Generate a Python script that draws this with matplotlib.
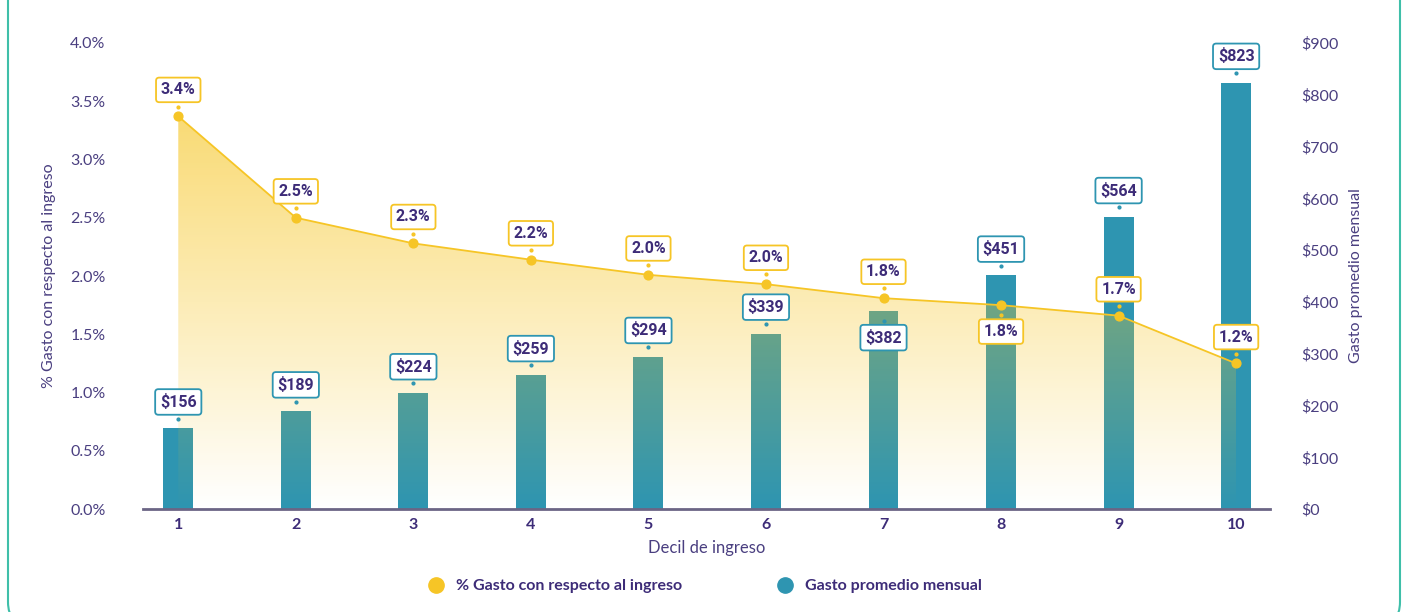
import numpy as np
import matplotlib.pyplot as plt
from matplotlib.patches import Polygon, FancyBboxPatch
from matplotlib.lines import Line2D
from matplotlib.transforms import ScaledTranslation, IdentityTransform

# data
deciles = [1, 2, 3, 4, 5, 6, 7, 8, 9, 10]
pct_gasto = [3.37, 2.50, 2.28, 2.14, 2.01, 1.93, 1.81, 1.75, 1.66, 1.25]
pct_labels = ['3.4%', '2.5%', '2.3%', '2.2%', '2.0%', '2.0%', '1.8%', '1.8%', '1.7%', '1.2%']
gasto_mensual = [156, 189, 224, 259, 294, 339, 382, 451, 564, 823]
gasto_labels = ['$156', '$189', '$224', '$259', '$294', '$339', '$382', '$451', '$564', '$823']
pct_ticks = [0, 0.5, 1.0, 1.5, 2.0, 2.5, 3.0, 3.5, 4.0]
usd_ticks = [0, 100, 200, 300, 400, 500, 600, 700, 800, 900]

PURPLE = '#3d2c78'
TICK = '#4a3f80'
YELLOW = '#f6c526'
TEAL = '#2e95b1'
BORDER = '#3fbfa9'
FONT = 'Lato'

fig = plt.figure(figsize=(14.02, 6.12), dpi=100)

# bars live on ax1 (right-hand $ axis), area/line on ax2 (left-hand % axis) so the fill sits on top
ax1 = fig.add_axes([0.102, 0.168, 0.804, 0.762])
ax2 = ax1.twinx()

ax1.bar(deciles, gasto_mensual, width=0.255, color=TEAL, zorder=1)
ax1.set_ylim(0, 900)
ax1.set_xlim(0.70, 10.29)
ax1.yaxis.tick_right()
ax1.yaxis.set_label_position('right')
ax1.set_yticks(usd_ticks)
ax1.set_yticklabels([f'${t}' for t in usd_ticks])
ax1.set_ylabel('Gasto promedio mensual', color=TICK, fontsize=11.5, family=FONT, labelpad=8)

ax2.set_ylim(0, 4.0)
ax2.yaxis.tick_left()
ax2.yaxis.set_label_position('left')
ax2.set_yticks(pct_ticks)
ax2.set_yticklabels([f'{t:.1f}%' for t in pct_ticks])
ax2.set_ylabel('% Gasto con respecto al ingreso', color=TICK, fontsize=11.5, family=FONT, labelpad=10)

for ax in (ax1, ax2):
    for s in ax.spines.values():
        s.set_visible(False)
    ax.tick_params(axis='y', length=0, labelsize=11.5, labelcolor=TICK)
    for lab in ax.get_yticklabels():
        lab.set_family(FONT)
ax1.tick_params(axis='y', pad=22)
ax2.tick_params(axis='y', pad=27)
ax1.spines['bottom'].set_visible(True)
ax1.spines['bottom'].set_color('#6b6585')
ax1.spines['bottom'].set_linewidth(2)
ax1.set_xticks(deciles)
ax1.set_xticklabels([str(d) for d in deciles], fontsize=11.5, fontweight='bold', color=PURPLE, family=FONT)
ax1.tick_params(axis='x', length=0, pad=6)
ax1.set_xlabel('Decil de ingreso', fontsize=12, color=TICK, family=FONT, labelpad=6)

# gradient area under the % line
verts = [(deciles[0], 0)] + list(zip(deciles, pct_gasto)) + [(deciles[-1], 0)]
poly = Polygon(verts, closed=True, fc='none', ec='none', transform=ax2.transData)
ax2.add_patch(poly)
top = max(pct_gasto)
n = 256
grad = np.zeros((n, 1, 4))
grad[:, 0, 0] = 0.965
grad[:, 0, 1] = 0.78
grad[:, 0, 2] = 0.15
grad[:, 0, 3] = np.linspace(0.64, 0.0, n)
im = ax2.imshow(grad, extent=[deciles[0], deciles[-1], 0, top], aspect='auto', origin='upper', zorder=1)
im.set_clip_path(poly)
ax2.set_xlim(0.70, 10.29)
ax2.set_ylim(0, 4.0)

ax2.plot(deciles, pct_gasto, color=YELLOW, lw=1.3, zorder=2)
ax2.scatter(deciles, pct_gasto, s=40, color=YELLOW, zorder=3)


def tag(x, y, text, ec, trans, below=False):
    off = -19 if below else 19
    ax2.annotate(text, (x, y), xycoords=trans, textcoords='offset points', xytext=(0, off),
                 ha='center', va='center', fontsize=11.5, fontweight='bold', color=PURPLE,
                 family='Roboto', zorder=6,
                 bbox=dict(boxstyle='round,pad=0.3,rounding_size=0.2', fc='white', ec=ec, lw=1.3))
    shift = ScaledTranslation(0, (7 if not below else -7) / 72, fig.dpi_scale_trans)
    ax2.plot([x], [y], transform=trans + shift, marker='o', ms=2, color=ec, zorder=6)


for i, d in enumerate(deciles):
    tag(d, pct_gasto[i], pct_labels[i], YELLOW, ax2.transData, below=(d == 8))
    tag(d, gasto_mensual[i], gasto_labels[i], TEAL, ax1.transData, below=(d == 7))

# legend
handles = [Line2D([], [], marker='o', ls='', ms=11, color=YELLOW, label='% Gasto con respecto al ingreso'),
           Line2D([], [], marker='o', ls='', ms=11, color=TEAL, label='Gasto promedio mensual')]
fig.legend(handles=handles, loc='center', bbox_to_anchor=(0.5, 0.042), ncol=2, frameon=False,
           columnspacing=5.4, handletextpad=0.3,
           prop={'family': FONT, 'weight': 'bold', 'size': 11.5}, labelcolor=PURPLE)

# rounded card border in pixels; top and bottom edges fall outside the canvas
card = FancyBboxPatch((8, -14), 1392, 700, boxstyle='round,pad=0,rounding_size=24',
                      transform=IdentityTransform(), fc='none', ec=BORDER, lw=1.5)
fig.patches.append(card)

fig.savefig('out.png', dpi=100)
